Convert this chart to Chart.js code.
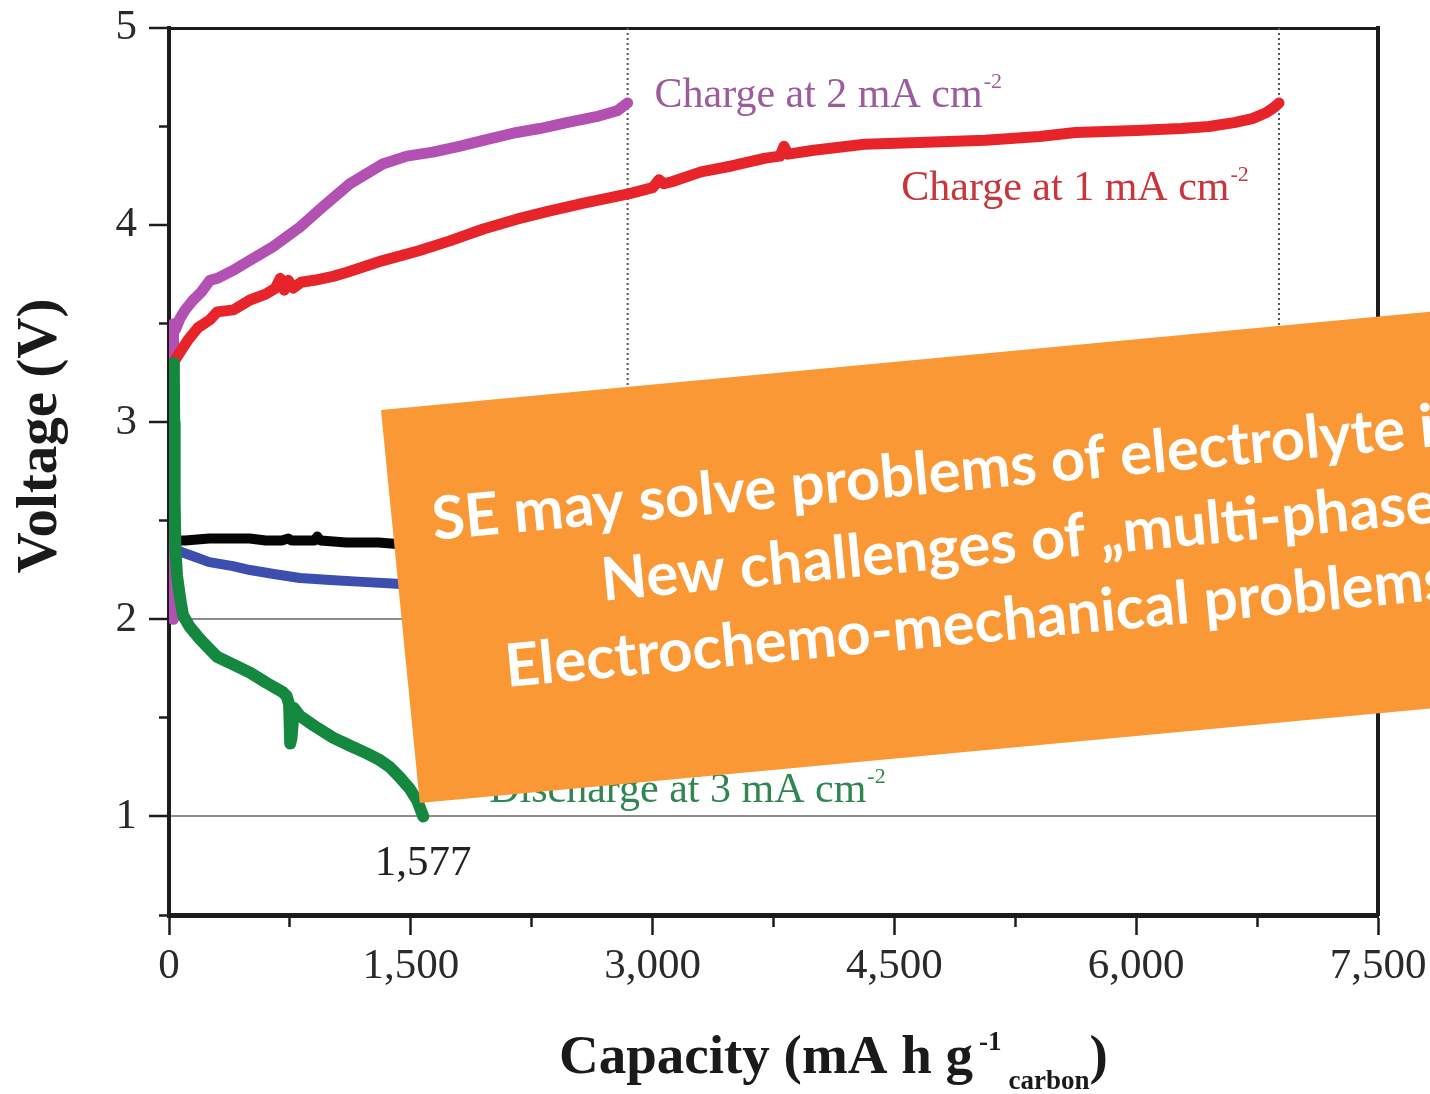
<!DOCTYPE html>
<html>
<head>
<meta charset="utf-8">
<title>Voltage vs capacity</title>
<script src="https://cdn.jsdelivr.net/npm/chart.js@4.4.1/dist/chart.umd.min.js"></script>
<style>
  html, body { margin: 0; padding: 0; background: #ffffff; overflow: hidden; }
  canvas { display: block; }
</style>
</head>
<body>
<canvas id="chart" width="1430" height="1094"></canvas>
<script>
// ---- axes -------------------------------------------------------------
const xTicks = [0, 1500, 3000, 4500, 6000, 7500];
const xTickLabels = ['0', '1,500', '3,000', '4,500', '6,000', '7,500'];
const xMinorTicks = [750, 2250, 3750, 5250, 6750];
const yTicks = [1, 2, 3, 4, 5];
const yTickLabels = ['1', '2', '3', '4', '5'];
const yMinorTicks = [0.5, 1.5, 2.5, 3.5, 4.5];
const yGuideLevels = [1, 2];

// ---- series: capacity (mA h g-1 carbon) and voltage (V) -------------------
const charge2Cap = [25, 26, 30, 40, 70, 100, 150, 200, 254, 300, 397, 500, 645, 812, 950, 1122, 1326, 1475, 1636, 1800, 1950, 2157, 2300, 2467, 2650, 2780, 2845];
const charge2V   = [2.00, 3.40, 3.50, 3.47, 3.53, 3.57, 3.62, 3.66, 3.72, 3.73, 3.77, 3.82, 3.89, 3.99, 4.09, 4.21, 4.31, 4.35, 4.37, 4.40, 4.43, 4.47, 4.49, 4.52, 4.55, 4.58, 4.62];

const charge1Cap = [15, 40, 80, 120, 180, 254, 300, 400, 502, 600, 660, 690, 715, 740, 770, 820, 900, 1017, 1100, 1326, 1550, 1742, 1950, 2157, 2350, 2566, 2857, 3000, 3040, 3070, 3120, 3300, 3490, 3700, 3790, 3815, 3840, 4000, 4314, 4700, 5064, 5400, 5622, 6000, 6279, 6450, 6608, 6720, 6806, 6860, 6886];
const charge1V   = [3.27, 3.32, 3.37, 3.42, 3.48, 3.52, 3.56, 3.57, 3.62, 3.65, 3.68, 3.73, 3.67, 3.72, 3.68, 3.71, 3.72, 3.74, 3.76, 3.82, 3.87, 3.92, 3.98, 4.03, 4.07, 4.11, 4.16, 4.19, 4.23, 4.21, 4.22, 4.27, 4.30, 4.34, 4.35, 4.40, 4.36, 4.38, 4.41, 4.42, 4.43, 4.45, 4.47, 4.48, 4.49, 4.50, 4.52, 4.54, 4.57, 4.60, 4.62];

const blackCap = [30, 100, 250, 400, 500, 600, 700, 740, 760, 800, 900, 920, 940, 1100, 1300, 1450, 1600];
const blackV   = [2.40, 2.40, 2.41, 2.41, 2.41, 2.40, 2.40, 2.41, 2.40, 2.40, 2.40, 2.42, 2.40, 2.39, 2.39, 2.38, 2.38];

const blueCap = [30, 80, 150, 250, 397, 502, 650, 812, 1000, 1200, 1413, 1600];
const blueV   = [2.36, 2.34, 2.32, 2.29, 2.27, 2.25, 2.23, 2.21, 2.20, 2.19, 2.18, 2.17];

const discharge3Cap = [30, 32, 35, 40, 50, 70, 87, 130, 192, 250, 298, 400, 502, 600, 707, 730, 745, 752, 760, 775, 812, 900, 1017, 1120, 1227, 1300, 1370, 1430, 1494, 1540, 1577];
const discharge3V   = [3.30, 3.00, 2.60, 2.35, 2.22, 2.10, 2.02, 1.96, 1.90, 1.85, 1.81, 1.77, 1.73, 1.68, 1.63, 1.61, 1.57, 1.37, 1.40, 1.55, 1.51, 1.46, 1.40, 1.36, 1.32, 1.29, 1.25, 1.20, 1.14, 1.08, 1.00];

// end-of-charge markers (dotted verticals) at the last capacity of each charge curve
const markerCaps = [charge2Cap[charge2Cap.length - 1], charge1Cap[charge1Cap.length - 1]];
const markerSpan = [5, 2.2];

// ---- text ---------------------------------------------------------------
const curveLabels = ['Charge at 2 mA cm', 'Charge at 1 mA cm', 'Discharge at 3 mA cm'];
const curveLabelSup = '-2';
const endCapacity = discharge3Cap[discharge3Cap.length - 1];
const bannerLines = [
  'SE may solve problems of electrolyte i',
  'New challenges of \u201Emulti-phase',
  'Electrochemo-mechanical problems'
];

const pts = (xs, ys) => xs.map((x, i) => ({ x, y: ys[i] }));
const SERIF = '"Liberation Serif", "Times New Roman", Times, serif';

function lineSet(data, color, width) {
  return { data, borderColor: color, backgroundColor: color, borderWidth: width,
           pointRadius: 0, tension: 0, borderJoinStyle: 'round', borderCapStyle: 'round', fill: false };
}

const datasets = [
  lineSet(pts(discharge3Cap, discharge3V), '#14883f', 12),
  lineSet(pts(charge1Cap, charge1V), '#e8242b', 11),
  lineSet(pts(charge2Cap, charge2V), '#b351b3', 11),
  lineSet(pts(blueCap, blueV), '#3c4fae', 10),
  lineSet(pts(blackCap, blackV), '#050505', 10),
  ...markerCaps.map(c => Object.assign(
    lineSet([{ x: c, y: markerSpan[0] }, { x: c, y: markerSpan[1] }], '#555555', 2),
    { borderDash: [2, 3], borderCapStyle: 'butt' }))
];

// text that belongs to the plot: curve labels, end value, axis titles, banner
const annotations = {
  id: 'annotations',
  afterDatasetsDraw(chart) {
    const { ctx, scales: { x, y } } = chart;
    ctx.save();
    ctx.textBaseline = 'alphabetic';
    ctx.textAlign = 'left';
    const main = '42px ' + SERIF, small = '22px ' + SERIF;

    function withSup(text, px, py, color, align) {
      ctx.font = main;
      const w = ctx.measureText(text).width;
      const left = align === 'right' ? px - w : px;
      ctx.fillStyle = color;
      ctx.fillText(text, left, py);
      ctx.font = small;
      ctx.fillText(curveLabelSup, left + w + 1, py - 19);
    }
    withSup(curveLabels[0], x.getPixelForValue(3012), y.getPixelForValue(4.60), '#9d5a9d', 'left');
    withSup(curveLabels[1], x.getPixelForValue(4543), y.getPixelForValue(4.128), '#c8353a', 'left');
    withSup(curveLabels[2], x.getPixelForValue(4326), y.getPixelForValue(1.075), '#2f8650', 'right');

    // capacity reached at the end of discharge
    ctx.font = '43px ' + SERIF;
    ctx.fillStyle = '#222';
    ctx.textAlign = 'center';
    ctx.fillText(endCapacity.toLocaleString('en-US'), x.getPixelForValue(endCapacity), y.getPixelForValue(0.705));
    ctx.restore();
  },
  afterDraw(chart) {
    const { ctx } = chart;
    ctx.save();
    ctx.fillStyle = '#1a1a1a';
    ctx.textBaseline = 'alphabetic';

    // x axis title with superscript and subscript
    const big = 'bold 55px ' + SERIF, sm = 'bold 27px ' + SERIF;
    let cx = 559;
    ctx.textAlign = 'left';
    ctx.font = big; ctx.fillText('Capacity (mA h g', cx, 1073); cx += ctx.measureText('Capacity (mA h g').width + 6;
    ctx.font = sm;  ctx.fillText('-1', cx, 1050); cx += ctx.measureText('-1').width + 7;
    ctx.font = sm;  ctx.fillText('carbon', cx, 1089); cx += ctx.measureText('carbon').width;
    ctx.font = big; ctx.fillText(')', cx, 1073);

    // y axis title
    ctx.save();
    ctx.translate(56, 436);
    ctx.rotate(-Math.PI / 2);
    ctx.textAlign = 'center';
    ctx.font = 'bold 57px ' + SERIF;
    ctx.fillText('Voltage (V)', 0, 0);
    ctx.restore();

    // tilted orange banner
    ctx.translate(381, 410);
    ctx.rotate(-5.35 * Math.PI / 180);
    ctx.fillStyle = '#f99834';
    ctx.beginPath();
    ctx.moveTo(0, 0); ctx.lineTo(1500, 0); ctx.lineTo(1500, 395); ctx.lineTo(2, 395);
    ctx.closePath();
    ctx.fill();

    const fam = 'Lato, "Open Sans", sans-serif';
    ctx.font = 'bold 100px ' + fam;
    const ref = ctx.measureText('SE may solve problems of electrolyte ').width;
    const size = 100 * 992 / ref;
    ctx.font = 'bold ' + size.toFixed(1) + 'px ' + fam;
    ctx.fillStyle = '#ffffff';
    ctx.textAlign = 'left';
    ctx.fillText(bannerLines[0], 40.6, 134.4);
    ctx.fillText(bannerLines[1], 203.3, 210.5);
    ctx.fillText(bannerLines[2], 99.6, 287.5);
    ctx.restore();
  }
};

const tickFont = { family: SERIF, size: 43 };
const axisColor = '#1c1c1c';
const noPad = s => { s.paddingTop = 0; s.paddingBottom = 0; s.paddingLeft = 0; s.paddingRight = 0; };

new Chart(document.getElementById('chart'), {
  type: 'line',
  data: { datasets },
  plugins: [annotations],
  options: {
    responsive: false,
    animation: false,
    devicePixelRatio: 1,
    layout: { padding: { top: 28, right: 52, left: 0, bottom: 0 } },
    plugins: { legend: { display: false }, tooltip: { enabled: false } },
    scales: {
      x: {
        type: 'linear', position: 'bottom', weight: 1, min: 0, max: 7500,
        afterBuildTicks: s => { s.ticks = xTicks.map(v => ({ value: v })); },
        afterFit: s => { s.height = 179; noPad(s); },
        ticks: { font: tickFont, color: '#2a2a2a', padding: 6, maxRotation: 0, autoSkip: false,
                 callback: (v, i) => xTickLabels[i] },
        grid: { drawOnChartArea: false, tickLength: 20, tickColor: axisColor, tickWidth: 2.5 },
        border: { color: axisColor, width: 5 }
      },
      xMinor: {
        type: 'linear', position: 'bottom', weight: 0, min: 0, max: 7500,
        afterBuildTicks: s => { s.ticks = xMinorTicks.map(v => ({ value: v })); },
        afterFit: s => { s.height = 0; noPad(s); },
        ticks: { display: false },
        grid: { drawOnChartArea: false, tickLength: 12, tickColor: axisColor, tickWidth: 2.5 },
        border: { display: false }
      },
      xTop: {
        type: 'linear', position: 'top', min: 0, max: 7500,
        afterFit: s => { s.height = 0; noPad(s); },
        ticks: { display: false },
        grid: { display: false },
        border: { color: axisColor, width: 3 }
      },
      y: {
        type: 'linear', position: 'left', weight: 1, min: 0.5, max: 5,
        afterBuildTicks: s => { s.ticks = yTicks.map(v => ({ value: v })); },
        afterFit: s => { s.width = 169; noPad(s); },
        ticks: { font: tickFont, color: '#2a2a2a', padding: 12, callback: (v, i) => yTickLabels[i] },
        grid: {
          tickLength: 20, tickColor: axisColor, tickWidth: 2.5, lineWidth: 2,
          color: c => (c.tick && yGuideLevels.includes(c.tick.value)) ? '#8c8c8c' : 'rgba(0,0,0,0)'
        },
        border: { color: axisColor, width: 4 }
      },
      yMinor: {
        type: 'linear', position: 'left', weight: 0, min: 0.5, max: 5,
        afterBuildTicks: s => { s.ticks = yMinorTicks.map(v => ({ value: v })); },
        afterFit: s => { s.width = 0; noPad(s); },
        ticks: { display: false },
        grid: { drawOnChartArea: false, tickLength: 10, tickColor: axisColor, tickWidth: 2.5 },
        border: { display: false }
      },
      yRight: {
        type: 'linear', position: 'right', min: 0.5, max: 5,
        afterFit: s => { s.width = 0; noPad(s); },
        ticks: { display: false },
        grid: { display: false },
        border: { color: axisColor, width: 4 }
      }
    }
  }
});
</script>
</body>
</html>
